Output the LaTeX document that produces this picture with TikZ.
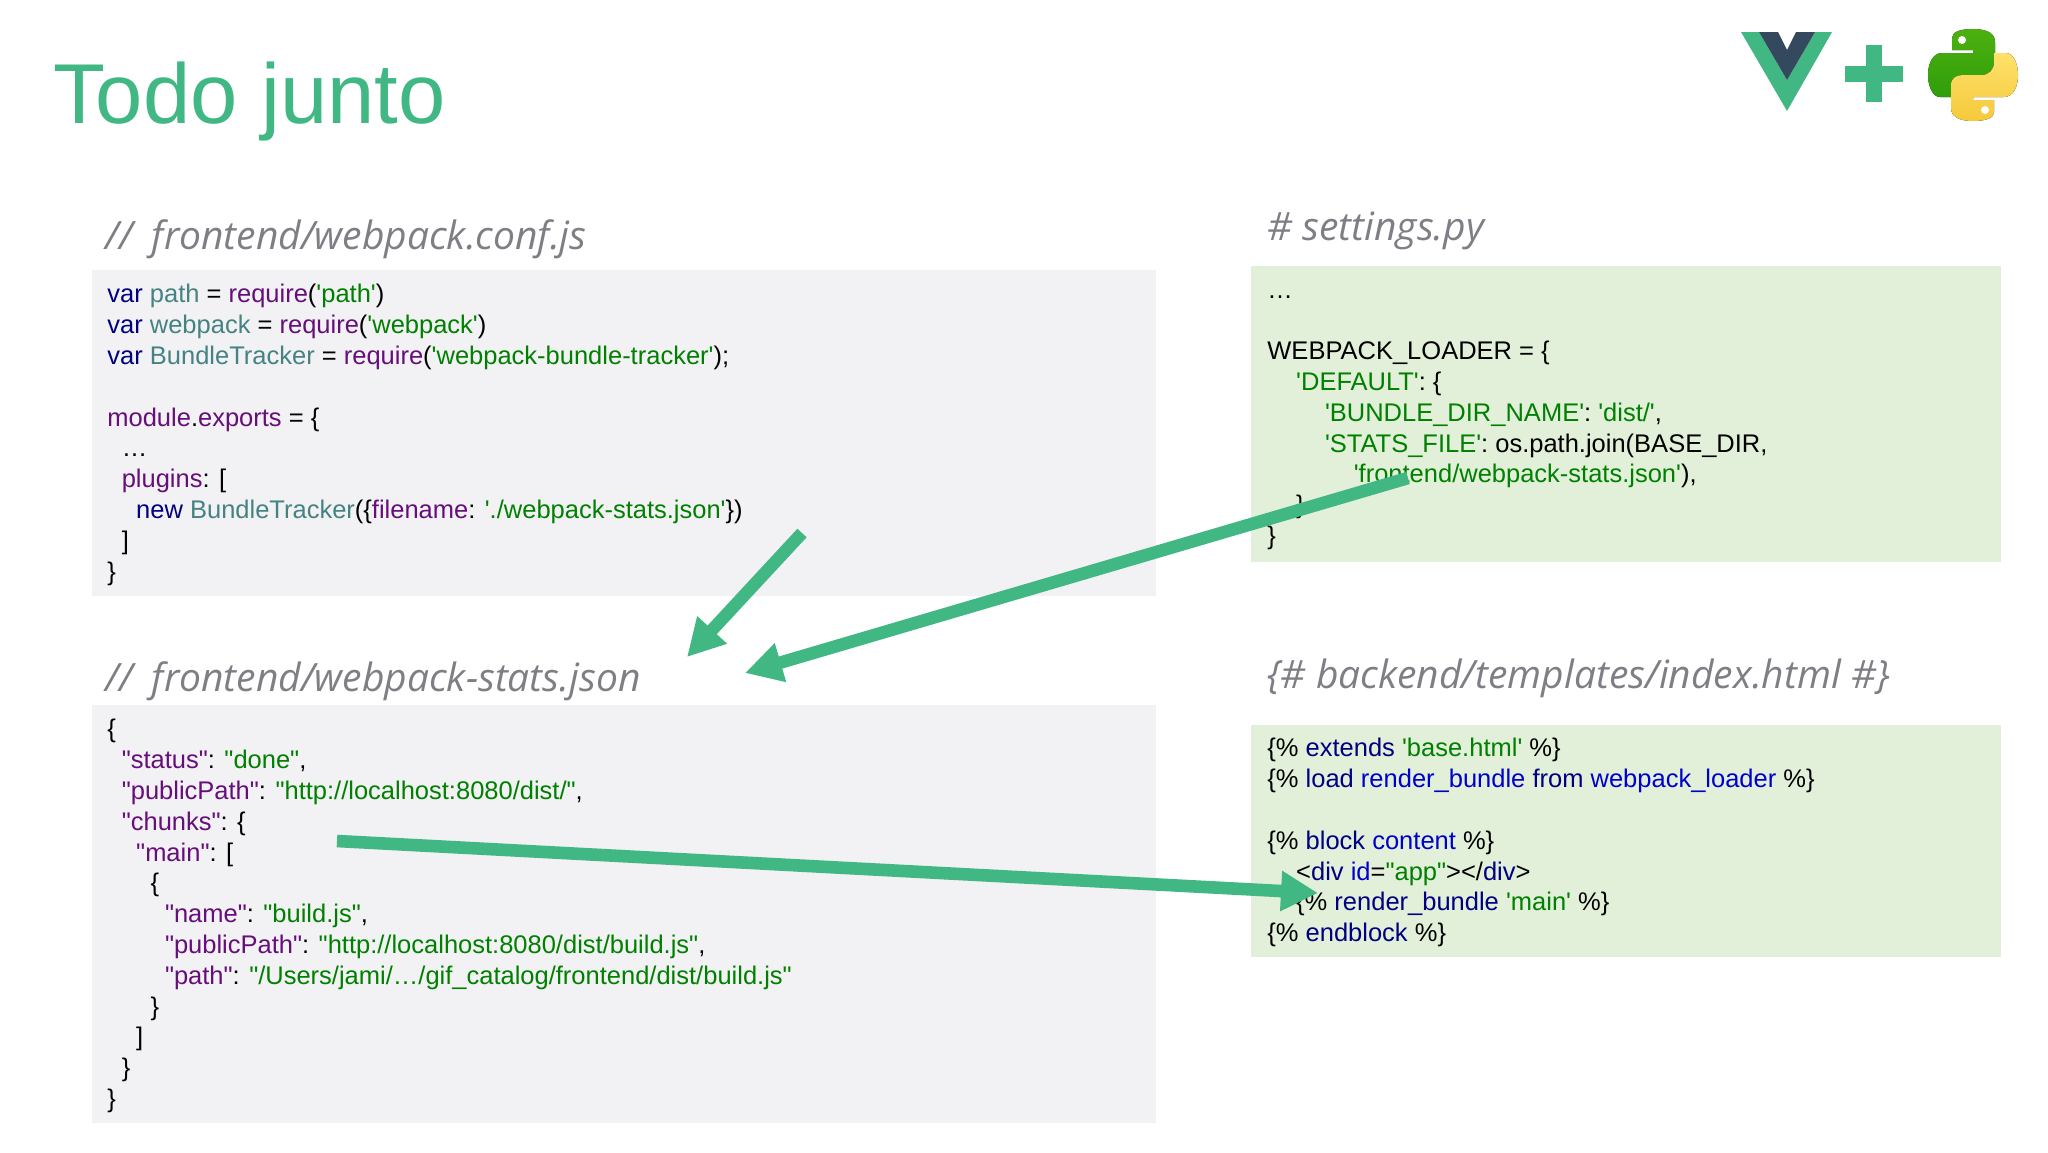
\documentclass[tikz,border=0pt]{standalone}
\usepackage{fontspec}
\usepackage[HTML]{xcolor}
\usetikzlibrary{positioning, arrows, arrows.meta}
\newfontfamily\codefont{Liberation Sans}
\newfontfamily\headfont{Open Sans}

\definecolor{vuegreen}{HTML}{41B883}
\definecolor{vuedark}{HTML}{35495E}
\definecolor{headgray}{HTML}{7F7E85}
\definecolor{panelgray}{HTML}{F2F1F3}
\definecolor{panelgreen}{HTML}{E2EFD9}
\definecolor{navykw}{HTML}{000080}
\definecolor{tealvar}{HTML}{458383}
\definecolor{purplekey}{HTML}{660E7A}
\definecolor{greenstr}{HTML}{008000}
\definecolor{bluetag}{HTML}{0000CC}
\definecolor{pytopg}{HTML}{4DB010}
\definecolor{pybotg}{HTML}{2F9E0A}
\definecolor{pytopy}{HTML}{FFE16B}
\definecolor{pyboty}{HTML}{F5C93A}

\newcommand{\ckw}[1]{\textcolor{navykw}{#1}}
\newcommand{\cvar}[1]{\textcolor{tealvar}{#1}}
\newcommand{\ckey}[1]{\textcolor{purplekey}{#1}}
\newcommand{\cstr}[1]{\textcolor{greenstr}{#1}}
\newcommand{\ctag}[1]{\textcolor{bluetag}{#1}}
\newcommand{\lvl}[2]{\hspace*{#1\dimexpr #2pt\relax}}

\tikzset{
  panelg/.style={fill=panelgray, inner sep=0pt, anchor=north west},
  panelv/.style={fill=panelgreen, inner sep=0pt, anchor=north west},
  codetext/.style={inner sep=0pt, anchor=north west, align=left, font=\codefont\fontsize{12.75}{15.4}\selectfont},
  headtext/.style={inner sep=0pt, anchor=base west, text=headgray, font=\headfont\itshape\fontsize{19.5}{24}\selectfont},
  linkarrow/.style={-{Stealth[length=18.5pt,width=19pt,inset=0pt]}, vuegreen, line width=6.3pt},
}

\begin{document}
\begin{tikzpicture}[x=0.5pt,y=-0.5pt]
\useasboundingbox (0,0) rectangle (2048,1152);

\node[inner sep=0pt, anchor=base west, text=vuegreen, font=\codefont\fontsize{42.5}{50}\selectfont] (title) at (53,123) {Todo junto};

% Vue logo and plus
\fill[vuegreen] (1741,32) -- (1787,111) -- (1832,32) -- (1815,32) -- (1787,80) -- (1759,32) -- cycle;
\fill[vuedark] (1759,32) -- (1778,32) -- (1787,50) -- (1796,32) -- (1815,32) -- (1787,80) -- cycle;
\fill[vuegreen] (1845,66) rectangle (1903,82);
\fill[vuegreen] (1866,45) rectangle (1882,102);

% Python logo
\fill[top color=pytopg, bottom color=pybotg] (1973,29) .. controls (1988,29) and (1995,34) .. (1995,42) -- (1995,65) .. controls (1995,72) and (1990,75) .. (1983,75) -- (1965,75) .. controls (1957,75) and (1952,80) .. (1952,88) -- (1952,97) -- (1940,97) .. controls (1932,97) and (1928,85) .. (1928,75) .. controls (1928,63) and (1933,53) .. (1942,53) -- (1973,53) -- (1973,50) -- (1952,50) -- (1952,38) .. controls (1952,32) and (1960,29) .. (1973,29) -- cycle;
\fill[top color=pytopy, bottom color=pyboty] (1973,121) .. controls (1958,121) and (1951,116) .. (1951,108) -- (1951,85) .. controls (1951,78) and (1956,75) .. (1963,75) -- (1981,75) .. controls (1989,75) and (1994,70) .. (1994,62) -- (1994,53) -- (2006,53) .. controls (2014,53) and (2018,65) .. (2018,75) .. controls (2018,87) and (2013,97) .. (2004,97) -- (1973,97) -- (1973,100) -- (1994,100) -- (1994,112) .. controls (1994,118) and (1986,121) .. (1973,121) -- cycle;
\fill[white] (1962,40) circle (4);
\fill[white] (1985,110) circle (4);

% Panels
\node[panelg, minimum width=532pt, minimum height=163pt] (confpanel) at (92,270) {};
\node[panelg, minimum width=532pt, minimum height=209pt] (statspanel) at (92,705) {};
\node[panelv, minimum width=375pt, minimum height=148pt] (settingspanel) at (1251,266) {};
\node[panelv, minimum width=375pt, minimum height=116pt] (indexpanel) at (1251,725) {};

% Headings
\node[headtext] (confhead) at (105,249) {//\hspace{4.5pt} frontend/webpack.conf.js};
\node[headtext] (statshead) at (105,691) {//\hspace{4.5pt} frontend/webpack-stats.json};
\node[headtext] (settingshead) at (1267,240) {\# settings.py};
\node[headtext] (indexhead) at (1267,688) {\{\# backend/templates/index.html \#\}};

% Code
\node[codetext] (confcode) at (107,284) {
\ckw{var} \cvar{path} = \ckey{require}(\cstr{'path'})\\
\ckw{var} \cvar{webpack} = \ckey{require}(\cstr{'webpack'})\\
\ckw{var} \cvar{BundleTracker} = \ckey{require}(\cstr{'webpack-bundle-tracker'});\\
~\\
\ckey{module}.\ckey{exports} = \{\\
\lvl{1}{7.2}…\\
\lvl{1}{7.2}\ckey{plugins}: [\\
\lvl{2}{7.2}\ckw{new} \cvar{BundleTracker}(\{\ckey{filename}: \cstr{'./webpack-stats.json'}\})\\
\lvl{1}{7.2}]\\
\}};
\node[codetext] (statscode) at (107,719) {
\{\\
\lvl{1}{7.2}\ckey{"status"}: \cstr{"done"},\\
\lvl{1}{7.2}\ckey{"publicPath"}: \cstr{"http://localhost:8080/dist/"},\\
\lvl{1}{7.2}\ckey{"chunks"}: \{\\
\lvl{2}{7.2}\ckey{"main"}: [\\
\lvl{3}{7.2}\{\\
\lvl{4}{7.2}\ckey{"name"}: \cstr{"build.js"},\\
\lvl{4}{7.2}\ckey{"publicPath"}: \cstr{"http://localhost:8080/dist/build.js"},\\
\lvl{4}{7.2}\ckey{"path"}: \cstr{"/Users/jami/…/gif\_catalog/frontend/dist/build.js"}\\
\lvl{3}{7.2}\}\\
\lvl{2}{7.2}]\\
\lvl{1}{7.2}\}\\
\}};
\node[codetext] (settingscode) at (1267,295) {
…\\
~\\
WEBPACK\_LOADER = \{\\
\lvl{1}{14.4}\cstr{'DEFAULT'}: \{\\
\lvl{2}{14.4}\cstr{'BUNDLE\_DIR\_NAME'}: \cstr{'dist/'},\\
\lvl{2}{14.4}\cstr{'STATS\_FILE'}: os.path.join(BASE\_DIR,\\
\lvl{3}{14.4}\cstr{'frontend/webpack-stats.json'}),\\
\lvl{1}{14.4}\}\\
\}};
\node[codetext] (indexcode) at (1267,738) {
\{\% \ckw{extends} \cstr{'base.html'} \%\}\\
\{\% \ckw{load} \ctag{render\_bundle} \ckw{from} \ctag{webpack\_loader} \%\}\\
~\\
\{\% \ckw{block} \ctag{content} \%\}\\
\lvl{1}{14.4}<\ckw{div} \ctag{id}=\cstr{"app"}></\ckw{div}>\\
\lvl{1}{14.4}\{\% \ckw{render\_bundle} \cstr{'main'} \%\}\\
\{\% \ckw{endblock} \%\}};

% Arrows
\coordinate (plugstart) at (802,533);
\coordinate (statsin) at (687,657);
\coordinate (settingstart) at (1408,478);
\coordinate (statsin2) at (745,673);
\coordinate (chunkstart) at (337,841);
\coordinate (renderin) at (1318,893);
\draw[linkarrow] (plugstart) -- (statsin);
\draw[linkarrow] (settingstart) -- (statsin2);
\draw[linkarrow] (chunkstart) -- (renderin);
\end{tikzpicture}
\end{document}
